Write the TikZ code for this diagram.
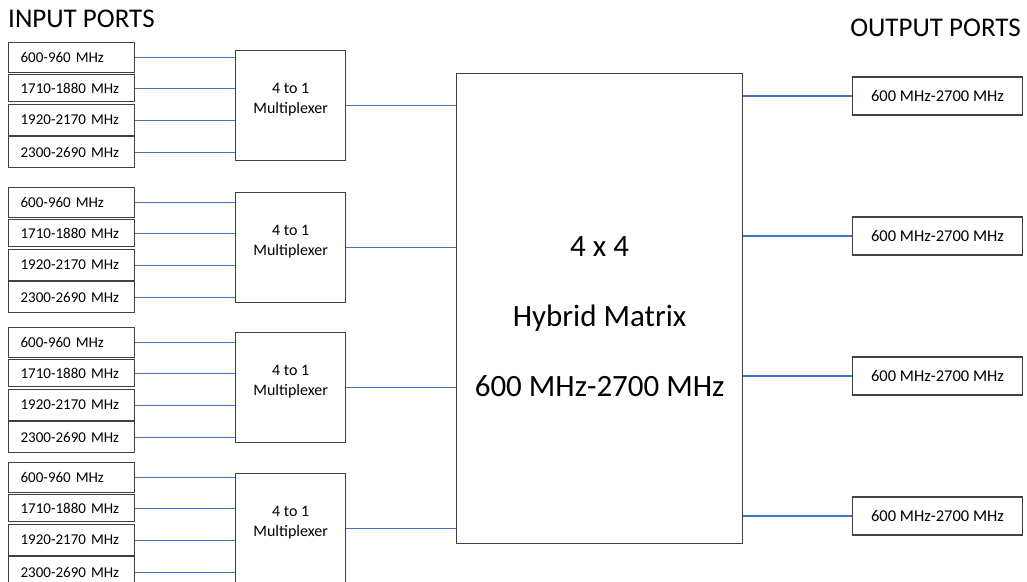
\documentclass[tikz,border=0pt]{standalone}
\usepackage{fontspec}
\setmainfont{Carlito}
\definecolor{linkblue}{HTML}{4472C4}
\definecolor{boxgray}{HTML}{404040}
\tikzset{
  box/.style={draw=boxgray, line width=1.2pt, fill=white, rectangle, inner ysep=0pt},
  inbox/.style={box, anchor=north west, text width=102pt, inner xsep=12pt, align=left,
    font=\fontsize{15}{18}\selectfont},
  muxbox/.style={box, anchor=north west, minimum width=110pt, minimum height=110pt,
    align=center, font=\fontsize{16}{20}\selectfont},
  bigbox/.style={box, anchor=north west, minimum width=286pt, minimum height=470pt,
    align=center, font=\fontsize{31}{70}\selectfont},
  outbox/.style={box, minimum width=170pt, minimum height=38pt,
    font=\fontsize{16.5}{20}\selectfont},
  title/.style={inner sep=0pt, font=\fontsize{27}{32}\selectfont},
  link/.style={draw=linkblue, line width=1.1pt}
}
\begin{document}
\begin{tikzpicture}[x=1pt,y=-1pt]
\clip (0,0) rectangle (1027,581);
\fill[white] (0,0) rectangle (1027,581);
\node[title, anchor=base west] (tin) at (8,27) {INPUT PORTS};
\node[title, anchor=base east] (tout) at (1021,36) {OUTPUT PORTS};
\node[bigbox] (big) at (456,73) {\mbox{}\\[-33pt]4 x 4\\Hybrid Matrix\\600 MHz-2700 MHz};
\foreach \g/\t/\m in {1/42/50, 2/187/192, 3/327/332, 4/462/473} {
  \node[inbox, minimum height=30pt] (in\g a) at (8,\t) {600-960 MHz};
  \node[inbox, minimum height=27pt] (in\g b) at (8,\t+32) {1710-1880 MHz};
  \node[inbox, minimum height=31pt] (in\g c) at (8,\t+62) {1920-2170 MHz};
  \node[inbox, minimum height=31pt] (in\g d) at (8,\t+94) {2300-2690 MHz};
  \node[muxbox] (mux\g) at (235,\m) {4 to 1\\Multiplexer\\[-6pt]\mbox{}};
  \foreach \k in {a,b,c,d} {
    \draw[link] (in\g\k.east) -- (in\g\k.east -| mux\g.west);
  }
  \draw[link] (mux\g.east) -- (mux\g.east -| big.west);
}
\foreach \i/\c in {1/96, 2/236, 3/376, 4/516} {
  \node[outbox] (out\i) at (937.5,\c) {600 MHz-2700 MHz};
  \draw[link] (out\i.west -| big.east) -- (out\i.west);
}
\end{tikzpicture}
\end{document}
